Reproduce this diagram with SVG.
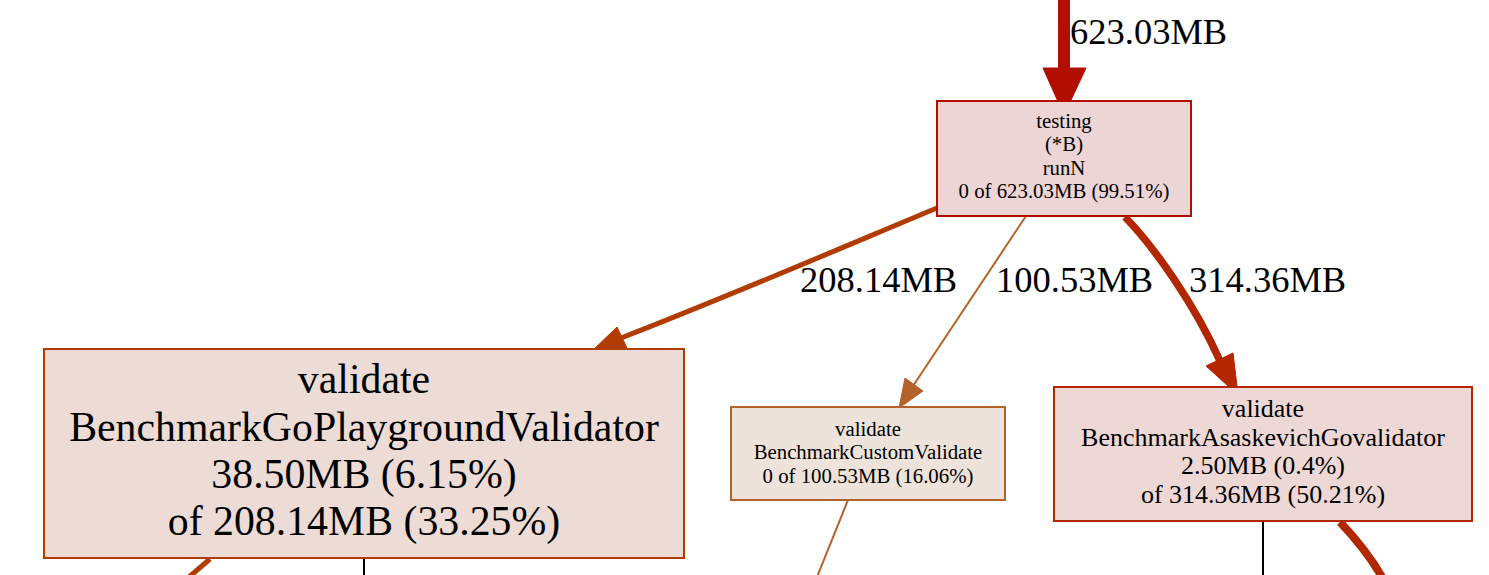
<svg xmlns="http://www.w3.org/2000/svg" width="1489" height="575" viewBox="0 0 1489 575">
<style>
text { font-family: "Liberation Serif", "Times New Roman", serif; text-anchor: middle; fill: #000; }
.lbl { font-size: 36.5px; text-anchor: start; }
.s21 { font-size: 20.8px; }
.s26 { font-size: 26px; }
.s41 { font-size: 41.8px; }
.e { fill: none; }
</style>
<rect width="1489" height="575" fill="#ffffff"/>
<g id="connectors">
  <g id="e-top">
    <path class="e" d="M1064,0 L1064,70" stroke="#b20e00" stroke-width="12"/>
    <polygon points="1043,68 1086,68 1064,115" fill="#b20e00" stroke="#b20e00"/>
    <text class="lbl" x="1070" y="44">623.03MB</text>
  </g>
  <g id="e-208">
    <path class="e" d="M937,208 C860,240 720,300 621,338" stroke="#b23c00" stroke-width="5"/>
    <polygon points="617,327 627,348 591,352" fill="#b23c00" stroke="#b23c00"/>
    <text class="lbl" x="800" y="292">208.14MB</text>
  </g>
  <g id="e-100">
    <path class="e" d="M1026,216 L913,386" stroke="#b2622a" stroke-width="2"/>
    <polygon points="905,378 923,391 899,408" fill="#b2622a" stroke="#b2622a"/>
    <text class="lbl" x="996" y="292">100.53MB</text>
  </g>
  <g id="e-314">
    <path class="e" d="M1125,217 C1155,248 1195,305 1220,361" stroke="#b22600" stroke-width="7.5"/>
    <polygon points="1206,366 1233,353 1238,395" fill="#b22600" stroke="#b22600"/>
    <text class="lbl" x="1189" y="292">314.36MB</text>
  </g>
  <path id="e-left-down" class="e" d="M210,559 L189,577" stroke="#b23c00" stroke-width="5"/>
  <path id="e-left-black" class="e" d="M364,559 L364,576" stroke="#000000" stroke-width="2"/>
  <path id="e-mid-down" class="e" d="M848,500 L817,577" stroke="#b2622a" stroke-width="2"/>
  <path id="e-right-black" class="e" d="M1263,522 L1263,576" stroke="#000000" stroke-width="2"/>
  <path id="e-right-down" class="e" d="M1340,522 C1355,538 1370,556 1382,577" stroke="#b22600" stroke-width="8"/>
</g>
<g id="node-testing">
  <rect x="937" y="101" width="254" height="115" fill="#edd5d5" stroke="#b20e00" stroke-width="2"/>
  <text class="s21" x="1064" y="128">testing</text>
  <text class="s21" x="1064" y="151.3">(*B)</text>
  <text class="s21" x="1064" y="174.6">runN</text>
  <text class="s21" x="1064" y="198">0 of 623.03MB (99.51%)</text>
</g>
<g id="node-goplayground">
  <rect x="44" y="349" width="640" height="209" fill="#eddcd5" stroke="#b23c00" stroke-width="2"/>
  <text class="s41" x="364" y="393">validate</text>
  <text class="s41" x="364" y="441">BenchmarkGoPlaygroundValidator</text>
  <text class="s41" x="364" y="488">38.50MB (6.15%)</text>
  <text class="s41" x="364" y="535">of 208.14MB (33.25%)</text>
</g>
<g id="node-custom">
  <rect x="731" y="407" width="274" height="93" fill="#ede3db" stroke="#b2622a" stroke-width="2"/>
  <text class="s21" x="868" y="436">validate</text>
  <text class="s21" x="868" y="459">BenchmarkCustomValidate</text>
  <text class="s21" x="868" y="482.5">0 of 100.53MB (16.06%)</text>
</g>
<g id="node-asaskevich">
  <rect x="1054" y="387" width="418" height="134" fill="#edd8d5" stroke="#b22600" stroke-width="2"/>
  <text class="s26" x="1263" y="417">validate</text>
  <text class="s26" x="1263" y="446">BenchmarkAsaskevichGovalidator</text>
  <text class="s26" x="1263" y="474">2.50MB (0.4%)</text>
  <text class="s26" x="1263" y="503">of 314.36MB (50.21%)</text>
</g>
</svg>
